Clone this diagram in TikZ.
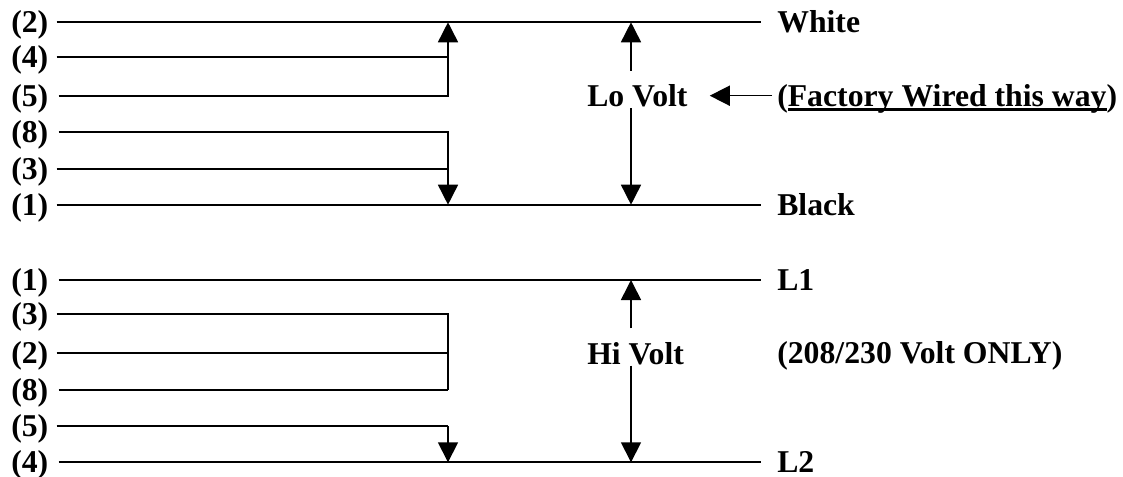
\documentclass[tikz,border=0pt]{standalone}
\usepackage{fontspec}
\setmainfont{Liberation Serif}
\usetikzlibrary{arrows.meta}
\tikzset{
	base/.style={font=\bfseries\fontsize{23.8}{28}\selectfont,inner ysep=0pt,text height=17.75pt,text depth=2pt},
	pin/.style={base,anchor=west,inner xsep=6pt},
	lead/.style={base,anchor=west,inner xsep=12pt},
	volt/.style={base,anchor=west,inner xsep=16.5pt,text height=26.6pt,text depth=1.1pt},
	wire/.style={line width=1.35pt},
	sig/.style={line width=1.2pt,-{Triangle[length=15pt,width=15pt]}}
}
\newcommand{\barunder}[1]{\vtop{\hbox{\smash{#1}}\kern1.5pt\hrule height 2.2pt}}
\begin{document}
\begin{tikzpicture}[x=0.75pt,y=0.75pt,yscale=-1,xscale=1]
	\useasboundingbox (0,0) rectangle (1123,477);

	% Lo Volt pins
	\node (a2) [pin] at (3,22.3) {(2)};
	\node (a4) [pin] at (3,56.7) {(4)};
	\node (a5) [pin] at (3,95.7) {(5)};
	\node (a8) [pin] at (3,132.3) {(8)};
	\node (a3) [pin] at (3,168.7) {(3)};
	\node (a1) [pin] at (3,204.7) {(1)};
	% Hi Volt pins
	\node (b1) [pin] at (3,280) {(1)};
	\node (b3) [pin] at (3,314) {(3)};
	\node (b2) [pin] at (3,353) {(2)};
	\node (b8) [pin] at (3,390) {(8)};
	\node (b5) [pin] at (3,426) {(5)};
	\node (b4) [pin] at (3,462.3) {(4)};

	% Text Node
	\node (white) [lead] at (761,22.3) {White};
	\node (black) [lead] at (761,204.7) {Black};
	\node (lone) [lead] at (761,280) {L1};
	\node (ltwo) [lead] at (761,462.3) {L2};
	\node (only) [lead] at (761,353) {(208/230 Volt ONLY)};
	\node (factory) [lead,inner xsep=3.75pt] at (772,95.7) {(\barunder{Factory Wired this way})};
	\node (lo) [volt] at (565,89.5) {Lo Volt};
	\node (hi) [volt] at (565,347) {Hi Volt};

	% Junctions
	\coordinate (ja2) at (448,22.3);
	\coordinate (ja4) at (448,56.7);
	\coordinate (ja5) at (448,95.7);
	\coordinate (ja8) at (448,132.3);
	\coordinate (ja3) at (448,168.7);
	\coordinate (ja1) at (448,204.7);
	\coordinate (jb3) at (448,314);
	\coordinate (jb2) at (448,353);
	\coordinate (jb8) at (448,390);
	\coordinate (jb5) at (448,426);
	\coordinate (jb4) at (448,462.3);
	\coordinate (ta) at (631,22.3);
	\coordinate (tb) at (631,204.7);
	\coordinate (tc) at (631,280);
	\coordinate (td) at (631,462.3);

	% Full lines
	\draw [wire] (a2) -- (white);
	\draw [wire] (a1) -- (black);
	\draw [wire,shorten <=1.5pt] (b1) -- (lone);
	\draw [wire,shorten <=1.5pt] (b4) -- (ltwo);

	% Lo Volt jumpers
	\draw [wire] (a4) -- (ja4);
	\draw [wire,shorten <=1.5pt] (a5) -- (ja5) -- (ja4);
	\draw [sig] (ja4) -- (ja2);
	\draw [wire,shorten <=1.5pt] (a8) -- (ja8) -- (ja3);
	\draw [wire] (a3) -- (ja3);
	\draw [sig] (ja3) -- (ja1);

	% Hi Volt jumpers
	\draw [wire] (b3) -- (jb3) -- (jb8);
	\draw [wire] (b2) -- (jb2);
	\draw [wire,shorten <=1.5pt] (b8) -- (jb8);
	\draw [wire] (b5) -- (jb5);
	\draw [sig] (jb5) -- (jb4);

	% Voltage arrows
	\draw [sig] (lo.north -| ta) -- (ta);
	\draw [sig] (lo.south -| tb) -- (tb);
	\draw [sig] (hi.north -| tc) -- (tc);
	\draw [sig] (hi.south -| td) -- (td);
	\draw [sig] (factory.west) -- (factory.west -| lo.east);
\end{tikzpicture}
\end{document}
